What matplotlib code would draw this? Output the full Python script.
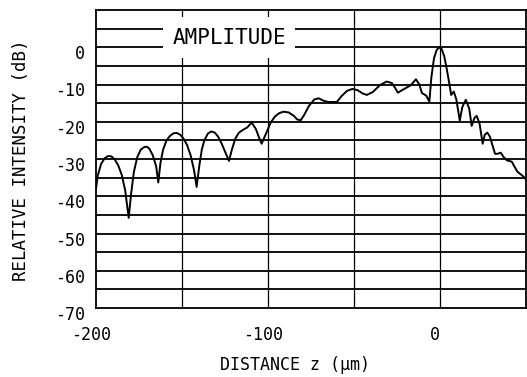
import matplotlib
matplotlib.use("Agg")
import matplotlib.pyplot as plt
import matplotlib.transforms as mtransforms
from matplotlib.patches import Rectangle

# ---- data ----
distance_um = [
    -200, -199, -197, -195, -193, -191, -189, -187, -185, -183, -181,
    -179.5, -178, -176, -174, -172, -170.5, -169, -167, -165, -163.8,
    -162.5, -161, -159, -157, -155, -153, -151, -149, -147, -145, -143,
    -141.5, -140, -138.5, -137, -135, -133, -131, -129, -127, -125, -122.7,
    -121, -119, -117, -115, -112, -109.5, -107, -105, -103.7,
    -101, -98.5, -96, -93.5, -91, -88, -85, -83,
    -81, -79, -76, -73, -70.5, -68, -65, -60, -57, -54, -51,
    -48, -45, -42.5, -39, -35, -31, -28, -26, -24.5, -22, -17, -14, -12,
    -10.5, -8, -6.2, -5, -3.5, -2, -0.5, 1, 2.5, 4, 5.5, 6.5, 8, 9.5,
    11.5, 13, 15, 17, 18.4, 20, 21.3, 23, 24.8, 26, 27.5, 29, 32, 33.5,
    35.3, 37, 39, 41.7, 43, 45, 48.5, 50,
]
intensity_db = [
    -38, -34.5, -31.3, -29.8, -29.2, -29.3, -30.2, -31.8, -34.3, -38.5, -45.8,
    -39, -33.5, -29.5, -27.5, -26.8, -26.7, -27.2, -29, -32, -36.3,
    -31, -27.5, -25, -23.8, -23.1, -23, -23.5, -24.6, -26.3, -29, -33,
    -37.5, -32, -27.5, -25, -23.2, -22.6, -22.9, -24, -25.8, -28, -30.5,
    -27.5, -24.5, -23, -22.3, -21.5, -20.2, -22, -24.5, -25.9,
    -23, -20.3, -18.6, -17.7, -17.3, -17.5, -18.4, -19.4,
    -19.6, -18.2, -15.6, -14, -13.7, -14.3, -14.7, -14.7, -13, -11.7, -11.2,
    -11.5, -12.4, -12.8, -12, -10.2, -9.2, -9.6, -11, -12.2, -11.5, -10.2, -8.6, -10,
    -12.3, -13, -14.6, -8, -3, -0.8, 0, -0.5, -2.5, -6, -10, -12.8, -11.9, -14,
    -19.7, -16, -14.1, -16.5, -21.1, -19, -18.4, -20.5, -25.9, -23.5, -22.9, -24, -28.6, -28.6,
    -28.3, -29.5, -30.4, -30.7, -31.8, -33.4, -34.7, -35.5,
]

x_ticks = [-200, -100, 0]
x_tick_labels = ["-200", "-100", "0"]
y_ticks = [0, -10, -20, -30, -40, -50, -60, -70]
y_tick_labels = ["0", "-10", "-20", "-30", "-40", "-50", "-60", "-70"]
x_grid = [-150, -100, -50, 0]
y_grid = [5, 0, -5, -10, -15, -20, -25, -30, -35, -40, -45, -50, -55, -60, -65]
title_text = "AMPLITUDE"
x_label = "DISTANCE z (\u03bcm)"
y_label = "RELATIVE INTENSITY (dB)"

FONT = ["DejaVu Sans Mono", "DejaVu Sans"]

W, H, DPI = 527, 377, 100
fig = plt.figure(figsize=(W / DPI, H / DPI), dpi=DPI)
fig.patch.set_facecolor("white")
ax = fig.add_axes([96 / W, 1 - 308 / H, (526 - 96) / W, (308 - 10) / H])
ax.set_xlim(-200, 50)
ax.set_ylim(-70, 10)

# grid
for yg in y_grid:
    ax.axhline(yg, color="black", lw=1.3, zorder=1)
for xg in x_grid:
    ax.axvline(xg, color="black", lw=0.9, zorder=1)

# white box for the AMPLITUDE label
ax.add_patch(Rectangle((-161, -2.9), 76.7, 10.9, facecolor="white",
                       edgecolor="none", zorder=2))
ax.text(-122.5, 2.6, title_text, ha="center", va="center", fontsize=15,
        family=FONT, zorder=3)

# curve
ax.plot(distance_um, intensity_db, color="black", lw=1.4, zorder=4,
        solid_joinstyle="round")

for s in ax.spines.values():
    s.set_linewidth(1.3)
    s.set_zorder(5)

ax.set_xticks(x_ticks)
ax.set_xticklabels(x_tick_labels, family=FONT, fontsize=12)
ax.set_yticks(y_ticks)
ax.set_yticklabels(y_tick_labels, family=FONT, fontsize=12)
ax.tick_params(length=0)
ax.tick_params(axis="x", pad=13)
ax.tick_params(axis="y", pad=8)

dy = mtransforms.ScaledTranslation(0, -5 / DPI, fig.dpi_scale_trans)
for lbl in ax.get_yticklabels():
    lbl.set_transform(lbl.get_transform() + dy)
dx = mtransforms.ScaledTranslation(-5 / DPI, 0, fig.dpi_scale_trans)
for lbl in ax.get_xticklabels():
    lbl.set_transform(lbl.get_transform() + dx)

fig.text(294.5 / W, 1 - 365 / H, x_label, ha="center", va="center",
         fontsize=12, family=FONT)
fig.text(21 / W, 1 - 160 / H, y_label, ha="center", va="center",
         rotation=90, fontsize=12.5, family=FONT)

fig.savefig("out.png", dpi=DPI, facecolor="white")
